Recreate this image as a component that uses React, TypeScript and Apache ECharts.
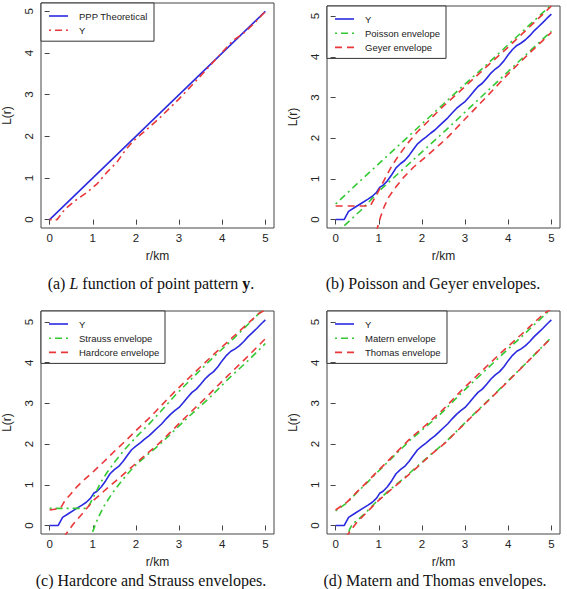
import React, { useEffect, useRef } from "react";
import * as echarts from "echarts";

// ---- data -------------------------------------------------------------
const TICKS = [0, 1, 2, 3, 4, 5];

// theoretical L(r) = r for a Poisson pattern
const pppTheoretical = [[0, 0], [5, 5]];

// estimated L(r) of pattern y (panel a)
const yEstimateA = [
  [0, 0], [0.17, 0], [0.36, 0.26], [0.6, 0.46], [0.87, 0.66], [1.1, 0.86],
  [1.33, 1.14], [1.56, 1.38], [1.75, 1.66], [1.95, 1.9], [2.18, 2.1],
  [2.53, 2.42], [3.0, 2.9], [3.5, 3.45], [4.0, 4.02], [4.25, 4.3],
  [4.5, 4.48], [4.75, 4.72], [5.0, 5.0],
];

// estimated L(r) of Y (panels b-d)
const yObserved = [
  [0, 0], [0.2, 0], [0.3, 0.2], [0.45, 0.3], [0.6, 0.4], [0.75, 0.5],
  [0.85, 0.57], [0.95, 0.67], [1.02, 0.79], [1.1, 0.84], [1.2, 0.95],
  [1.3, 1.1], [1.4, 1.27], [1.5, 1.37], [1.6, 1.45], [1.7, 1.57],
  [1.8, 1.72], [1.9, 1.86], [2.0, 1.95], [2.1, 2.03], [2.2, 2.12],
  [2.3, 2.2], [2.4, 2.3], [2.5, 2.4], [2.6, 2.5], [2.7, 2.62], [2.8, 2.73],
  [2.9, 2.82], [3.0, 2.9], [3.1, 3.02], [3.2, 3.15], [3.3, 3.27],
  [3.4, 3.35], [3.5, 3.47], [3.6, 3.6], [3.7, 3.7], [3.8, 3.78],
  [3.9, 3.9], [4.0, 4.05], [4.1, 4.18], [4.2, 4.28], [4.3, 4.34],
  [4.4, 4.42], [4.5, 4.52], [4.6, 4.64], [4.7, 4.74], [4.8, 4.84],
  [4.9, 4.95], [5.0, 5.05],
];

// Poisson envelope (panel b)
const poissonUpper = [
  [0, 0.38], [0.5, 0.88], [1.04, 1.41], [1.5, 1.86], [2, 2.35], [2.5, 2.84],
  [3, 3.33], [3.5, 3.81], [4, 4.3], [4.5, 4.79], [5, 5.28],
];
const poissonLower = [
  [0.1, -0.25], [0.58, 0.22], [1.04, 0.73], [1.73, 1.4], [2.55, 2.19],
  [3, 2.64], [3.5, 3.14], [4, 3.64], [4.5, 4.14], [5, 4.63],
];

// Geyer envelope (panel b)
const geyerUpper = [
  [0, 0.33], [0.8, 0.33], [0.92, 0.55], [1.04, 0.79], [1.18, 1.08],
  [1.31, 1.33], [1.46, 1.57], [1.66, 1.86], [1.89, 2.15], [2.12, 2.39],
  [2.43, 2.72], [3, 3.27], [3.5, 3.76], [4, 4.24], [4.5, 4.74], [5, 5.25],
];
const geyerLower = [
  [0.94, -0.3], [0.97, -0.2], [1.04, 0.06], [1.12, 0.3], [1.23, 0.55],
  [1.39, 0.79], [1.58, 1.04], [1.81, 1.29], [2.12, 1.57], [2.43, 1.86],
  [2.56, 1.98], [3, 2.47], [3.5, 3.02], [4, 3.58], [4.5, 4.1], [5, 4.6],
];

// Strauss envelope (panel c)
const straussUpper = [
  [0, 0.42], [0.87, 0.42], [0.94, 0.54], [1.06, 0.79], [1.18, 1.05],
  [1.33, 1.3], [1.52, 1.58], [1.75, 1.88], [2.03, 2.2], [2.33, 2.52],
  [2.53, 2.75], [2.91, 3.2], [3.38, 3.7], [3.84, 4.18], [4.3, 4.63],
  [4.91, 5.27], [5, 5.33],
];
const straussLower = [
  [0.96, -0.3], [0.98, -0.2], [1.1, 0.13], [1.25, 0.46], [1.45, 0.79],
  [1.68, 1.11], [1.95, 1.44], [2.26, 1.73], [2.53, 1.97], [2.76, 2.2],
  [3.22, 2.67], [3.69, 3.12], [4.15, 3.61], [4.61, 4.06], [5, 4.47],
];

// Hardcore envelope (panel c)
const hardcoreUpper = [
  [0, 0.38], [0.25, 0.42], [0.36, 0.62], [0.48, 0.76], [0.63, 0.95],
  [0.83, 1.15], [1.02, 1.33], [1.25, 1.56], [1.48, 1.8], [1.75, 2.07],
  [2.03, 2.36], [2.33, 2.66], [2.5, 2.85], [2.91, 3.3], [3.38, 3.78],
  [3.84, 4.24], [4.3, 4.68], [4.85, 5.21], [5, 5.3],
];
const hardcoreLower = [
  [0.33, -0.3], [0.36, -0.24], [0.56, 0.05], [0.79, 0.33], [1.02, 0.62],
  [1.33, 0.91], [1.64, 1.19], [1.95, 1.48], [2.26, 1.77], [2.53, 2.01],
  [3.15, 2.66], [3.61, 3.13], [4.07, 3.62], [4.54, 4.1], [5, 4.59],
];

// Matern envelope (panel d)
const maternUpper = [
  [0, 0.36], [0.27, 0.56], [0.5, 0.82], [0.73, 1.05], [0.96, 1.3],
  [1.19, 1.54], [1.46, 1.82], [1.73, 2.1], [2.04, 2.38], [2.35, 2.66],
  [2.54, 2.85], [2.9, 3.24], [3.37, 3.71], [3.84, 4.18], [4.3, 4.63],
  [4.88, 5.21], [5, 5.3],
];
const maternLower = [
  [0.28, -0.3], [0.32, -0.1], [0.4, 0.05], [0.5, 0.12], [0.73, 0.35],
  [0.96, 0.6], [1.27, 0.89], [1.59, 1.17], [1.9, 1.46], [2.2, 1.74],
  [2.54, 2.04], [3.14, 2.67], [3.6, 3.14], [4.06, 3.62], [4.52, 4.1],
  [4.98, 4.6],
];

// Thomas envelope (panel d)
const thomasUpper = [
  [0, 0.38], [0.27, 0.58], [0.5, 0.83], [0.73, 1.07], [0.96, 1.32],
  [1.19, 1.56], [1.46, 1.85], [1.73, 2.14], [2.04, 2.42], [2.35, 2.71],
  [2.54, 2.9], [2.9, 3.3], [3.37, 3.78], [3.83, 4.24], [4.29, 4.68],
  [4.83, 5.21], [5, 5.32],
];
const thomasLower = [
  [0.24, -0.3], [0.27, -0.24], [0.5, 0.09], [0.73, 0.33], [0.96, 0.58],
  [1.27, 0.87], [1.59, 1.15], [1.9, 1.44], [2.2, 1.73], [2.54, 2.03],
  [3.14, 2.66], [3.6, 3.13], [4.06, 3.61], [4.52, 4.1], [4.98, 4.59],
];

// ---- styling ----------------------------------------------------------
const SANS = "'Liberation Sans', Arial, Helvetica, sans-serif";
const SERIF = "'Liberation Serif', 'Times New Roman', serif";
const BLUE = "#2a2ae0";
const RED = "#e8383a";
const GREEN = "#34c934";
const LINE_W = 1.6;
const CAPTION_SIZE = 16;

type Kind = "solid" | "dash" | "dotdash";
const dashOf = (k: Kind): any =>
  k === "solid" ? "solid" : k === "dash" ? [7, 5] : [2, 4, 7, 4];

type Curve = { name: string; data: number[][]; kind: Kind; color: string };
type Entry = { name: string; kind: Kind; color: string };

type PanelProps = {
  box: { left: number; top: number; width: number; height: number };
  grid: { left: number; top: number; width: number; height: number };
  yMin: number;
  yMax: number;
  curves: Curve[];
  legend: Entry[];
  caption: string;
  captionX: number;
  captionY: number;
};

function Panel(p: PanelProps) {
  const ref = useRef<HTMLDivElement>(null);
  useEffect(() => {
    if (!ref.current) return;
    const chart = echarts.init(ref.current, undefined, { renderer: "svg" });

    const series: any[] = p.curves.map((c) => ({
      type: "line",
      name: c.name,
      data: c.data,
      symbol: "none",
      clip: true,
      silent: true,
      lineStyle: { color: c.color, width: LINE_W, type: dashOf(c.kind) },
      itemStyle: { color: c.color },
    }));

    // boxed key in the top-left corner of the plot
    const rowH = 14.2;
    const padTop = 13;
    const legendH = padTop + (p.legend.length - 1) * rowH + 11;
    const keyFont = `9.5px ${SANS}`;
    const legendChildren: any[] = [];
    let maxW = 0;
    p.legend.forEach((e, i) => {
      const y = padTop + i * rowH;
      legendChildren.push({
        type: "line",
        shape: { x1: 8, y1: y, x2: 27, y2: y },
        style: {
          stroke: e.color,
          lineWidth: LINE_W,
          lineDash: e.kind === "solid" ? null : dashOf(e.kind),
        },
      });
      legendChildren.push({
        type: "text",
        x: 38,
        y,
        style: {
          text: e.name,
          fill: "#222",
          font: keyFont,
          verticalAlign: "middle",
          align: "left",
        },
      });
      const fmt: any = (echarts as any).format;
      const w =
        fmt && fmt.getTextRect
          ? fmt.getTextRect(e.name, keyFont).width
          : e.name.length * 5.3;
      maxW = Math.max(maxW, w);
    });

    const graphic: any[] = [
      {
        type: "group",
        x: p.grid.left,
        y: p.grid.top,
        z: 100,
        children: [
          {
            type: "rect",
            shape: { x: 0, y: 0, width: Math.round(38 + maxW + 6), height: legendH },
            style: { fill: "#fff", stroke: "#333", lineWidth: 1 },
          },
          ...legendChildren,
        ],
      },
      {
        type: "text",
        x: p.captionX,
        y: p.captionY,
        style: {
          text: p.caption,
          fill: "#111",
          font: `${CAPTION_SIZE}px ${SERIF}`,
          align: "center",
          verticalAlign: "middle",
          rich: {
            n: { fontFamily: SERIF, fontSize: CAPTION_SIZE, fill: "#111" },
            i: { fontFamily: SERIF, fontSize: CAPTION_SIZE, fontStyle: "italic", fill: "#111" },
            b: { fontFamily: SERIF, fontSize: CAPTION_SIZE, fontWeight: "bold", fill: "#111" },
          },
        },
      },
    ];

    const tickStyle = { color: "#444", width: 1 };
    const option: any = {
      animation: false,
      backgroundColor: "#fff",
      grid: {
        ...p.grid,
        show: true,
        borderColor: "#444",
        borderWidth: 1,
        containLabel: false,
        outerBoundsMode: "none",
      },
      xAxis: {
        type: "value",
        min: -0.2,
        max: 5.2,
        axisLine: { show: false },
        splitLine: { show: false },
        axisTick: { show: true, inside: false, length: 5, customValues: TICKS, lineStyle: tickStyle },
        axisLabel: {
          customValues: TICKS,
          fontSize: 11.5,
          fontFamily: SANS,
          color: "#222",
          margin: 4,
        },
        name: "r/km",
        nameLocation: "middle",
        nameGap: 22,
        nameTextStyle: { fontSize: 12, fontFamily: SANS, color: "#222" },
      },
      yAxis: {
        type: "value",
        min: p.yMin,
        max: p.yMax,
        axisLine: { show: false },
        splitLine: { show: false },
        axisTick: { show: true, inside: false, length: 5, customValues: TICKS, lineStyle: tickStyle },
        axisLabel: {
          customValues: TICKS,
          rotate: 90,
          fontSize: 11.5,
          fontFamily: SANS,
          color: "#222",
          margin: 6,
        },
        name: "L(r)",
        nameLocation: "middle",
        nameRotate: 90,
        nameGap: 28,
        nameTextStyle: { fontSize: 12, fontFamily: SANS, color: "#222" },
      },
      series,
      graphic,
    };
    chart.setOption(option);
    return () => chart.dispose();
  }, []);

  return (
    <div
      ref={ref}
      style={{
        position: "absolute",
        left: p.box.left,
        top: p.box.top,
        width: p.box.width,
        height: p.box.height,
        overflow: "hidden",
      }}
    />
  );
}

const captionA = "{n|(a) }{i|L}{n| function of point pattern }{b|y}{n|.}";
const captionB = "{n|(b) Poisson and Geyer envelopes.}";
const captionC = "{n|(c) Hardcore and Strauss envelopes.}";
const captionD = "{n|(d) Matern and Thomas envelopes.}";

export default function App() {
  return (
    <div
      style={{
        position: "fixed",
        left: 0,
        top: 0,
        width: 567,
        height: 589,
        background: "#fff",
        overflow: "hidden",
      }}
    >
      <Panel
        box={{ left: 0, top: 0, width: 283, height: 295 }}
        grid={{ left: 41, top: 3, width: 233, height: 225 }}
        yMin={-0.2}
        yMax={5.2}
        curves={[
          { name: "PPP Theoretical", data: pppTheoretical, kind: "solid", color: BLUE },
          { name: "Y", data: yEstimateA, kind: "dotdash", color: RED },
        ]}
        legend={[
          { name: "PPP Theoretical", kind: "solid", color: BLUE },
          { name: "Y", kind: "dotdash", color: RED },
        ]}
        caption={captionA}
        captionX={151}
        captionY={283}
      />
      <Panel
        box={{ left: 283, top: 0, width: 284, height: 295 }}
        grid={{ left: 44, top: 6, width: 233, height: 222 }}
        yMin={-0.21}
        yMax={5.25}
        curves={[
          { name: "Y", data: yObserved, kind: "solid", color: BLUE },
          { name: "Poisson upper", data: poissonUpper, kind: "dotdash", color: GREEN },
          { name: "Poisson lower", data: poissonLower, kind: "dotdash", color: GREEN },
          { name: "Geyer upper", data: geyerUpper, kind: "dash", color: RED },
          { name: "Geyer lower", data: geyerLower, kind: "dash", color: RED },
        ]}
        legend={[
          { name: "Y", kind: "solid", color: BLUE },
          { name: "Poisson envelope", kind: "dotdash", color: GREEN },
          { name: "Geyer envelope", kind: "dash", color: RED },
        ]}
        caption={captionB}
        captionX={150}
        captionY={283}
      />
      <Panel
        box={{ left: 0, top: 295, width: 283, height: 294 }}
        grid={{ left: 41, top: 16, width: 233, height: 223 }}
        yMin={-0.21}
        yMax={5.27}
        curves={[
          { name: "Y", data: yObserved, kind: "solid", color: BLUE },
          { name: "Strauss upper", data: straussUpper, kind: "dotdash", color: GREEN },
          { name: "Strauss lower", data: straussLower, kind: "dotdash", color: GREEN },
          { name: "Hardcore upper", data: hardcoreUpper, kind: "dash", color: RED },
          { name: "Hardcore lower", data: hardcoreLower, kind: "dash", color: RED },
        ]}
        legend={[
          { name: "Y", kind: "solid", color: BLUE },
          { name: "Strauss envelope", kind: "dotdash", color: GREEN },
          { name: "Hardcore envelope", kind: "dash", color: RED },
        ]}
        caption={captionC}
        captionX={151}
        captionY={285}
      />
      <Panel
        box={{ left: 283, top: 295, width: 284, height: 294 }}
        grid={{ left: 44, top: 16, width: 233, height: 223 }}
        yMin={-0.21}
        yMax={5.27}
        curves={[
          { name: "Y", data: yObserved, kind: "solid", color: BLUE },
          { name: "Matern upper", data: maternUpper, kind: "dotdash", color: GREEN },
          { name: "Matern lower", data: maternLower, kind: "dotdash", color: GREEN },
          { name: "Thomas upper", data: thomasUpper, kind: "dash", color: RED },
          { name: "Thomas lower", data: thomasLower, kind: "dash", color: RED },
        ]}
        legend={[
          { name: "Y", kind: "solid", color: BLUE },
          { name: "Matern envelope", kind: "dotdash", color: GREEN },
          { name: "Thomas envelope", kind: "dash", color: RED },
        ]}
        caption={captionD}
        captionX={152}
        captionY={285}
      />
    </div>
  );
}
